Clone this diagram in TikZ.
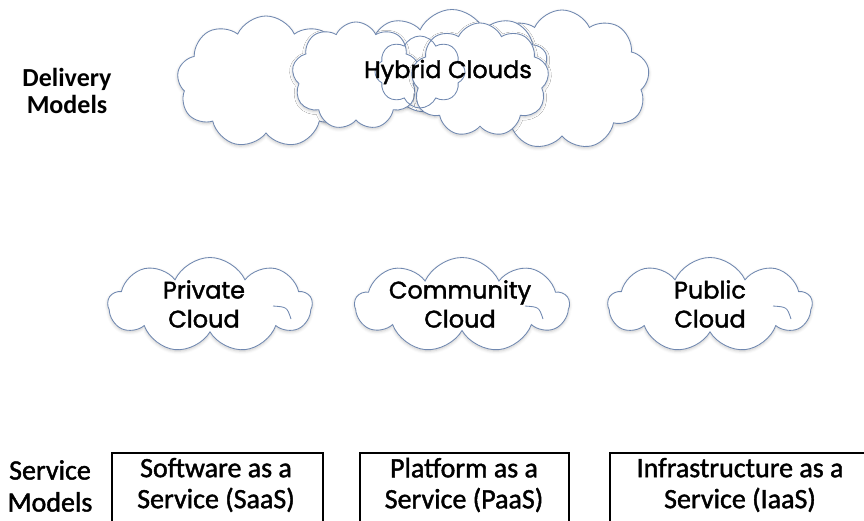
\documentclass[tikz,border=0pt]{standalone}
\usepackage{fontspec}
\setmainfont{Carlito}
\newfontfamily\cloudfont{Poppins}[FakeBold=1.6]
\newfontfamily\svcfont{Carlito}[FakeBold=1.5]
\usetikzlibrary{shapes.symbols,shadows.blur}
\definecolor{cloudline}{RGB}{112,136,176}
\tikzset{
  puff/.style={cloud, cloud puffs=9, cloud puff arc=130, draw=cloudline,
    line width=0.85pt, fill=white, inner sep=0pt,
    blur shadow={shadow xshift=0pt, shadow yshift=-1.5pt,
      shadow blur radius=3pt, shadow opacity=22}},
  hollow/.style={cloud, cloud puffs=8, cloud puff arc=130, draw=cloudline,
    line width=0.85pt, inner sep=0pt},
  curl/.style={draw=cloudline, line width=0.85pt},
  cloudtext/.style={font=\cloudfont\fontsize{24}{29}\selectfont, align=center, text=black},
  svcbox/.style={draw=black, line width=1.8pt, anchor=north west, inner sep=0pt},
  svctext/.style={font=\svcfont\fontsize{28}{31}\selectfont, align=center},
  sidelabel/.style={font=\svcfont\fontsize{28}{32}\selectfont, align=center}
}
\begin{document}
\begin{tikzpicture}[x=1pt,y=-1pt]
\useasboundingbox (0,0) rectangle (864,520);

% hybrid cloud cluster, back to front
\node[puff, minimum width=175pt, minimum height=140pt] (h1) at (562,80) {};
\node[puff, minimum width=190pt, minimum height=105pt] (h2) at (452,62) {};
\node[puff, minimum width=178pt, minimum height=132pt] (h3) at (266,82) {};
\node[puff, minimum width=128pt, minimum height=108pt] (h4) at (356,76) {};
\node[puff, minimum width=138pt, minimum height=114pt] (h5) at (480,80) {};
\node[hollow, minimum width=90pt, minimum height=72pt] (h6) at (420,72) {};
\node[cloudtext] (hybrid) at (448,72) {Hybrid Clouds};

\node[font=\bfseries\fontsize{26}{27}\selectfont, align=center] (delivery) at (67,91) {Delivery\\Models};

% delivery models
\node[puff, minimum width=204pt, minimum height=95pt] (private) at (210,305) {};
\node[puff, minimum width=214pt, minimum height=95pt] (community) at (462,305) {};
\node[puff, minimum width=204pt, minimum height=95pt] (public) at (710,305) {};
\foreach \c in {private,community,public}
  \draw[curl] ([shift={(63,1)}]\c.center) .. controls ([shift={(77,2)}]\c.center) .. ([shift={(81,14)}]\c.center);
\node[cloudtext] (privatet) at (204,304) {Private\\Cloud};
\node[cloudtext] (communityt) at (460,304) {Community\\Cloud};
\node[cloudtext] (publict) at (710,304) {Public\\Cloud};

% service models
\node[sidelabel] (service) at (50,486) {Service\\Models};
\node[svcbox, minimum width=211pt, minimum height=90pt] (saas) at (111,452) {};
\node[svctext] at (216,485) {Software as a\\Service (SaaS)};
\node[svcbox, minimum width=209pt, minimum height=90pt] (paas) at (359,452) {};
\node[svctext] at (464,485) {Platform as a\\Service (PaaS)};
\node[svcbox, minimum width=260pt, minimum height=90pt] (iaas) at (609,452) {};
\node[svctext] at (740,485) {Infrastructure as a\\Service (IaaS)};
\end{tikzpicture}
\end{document}
